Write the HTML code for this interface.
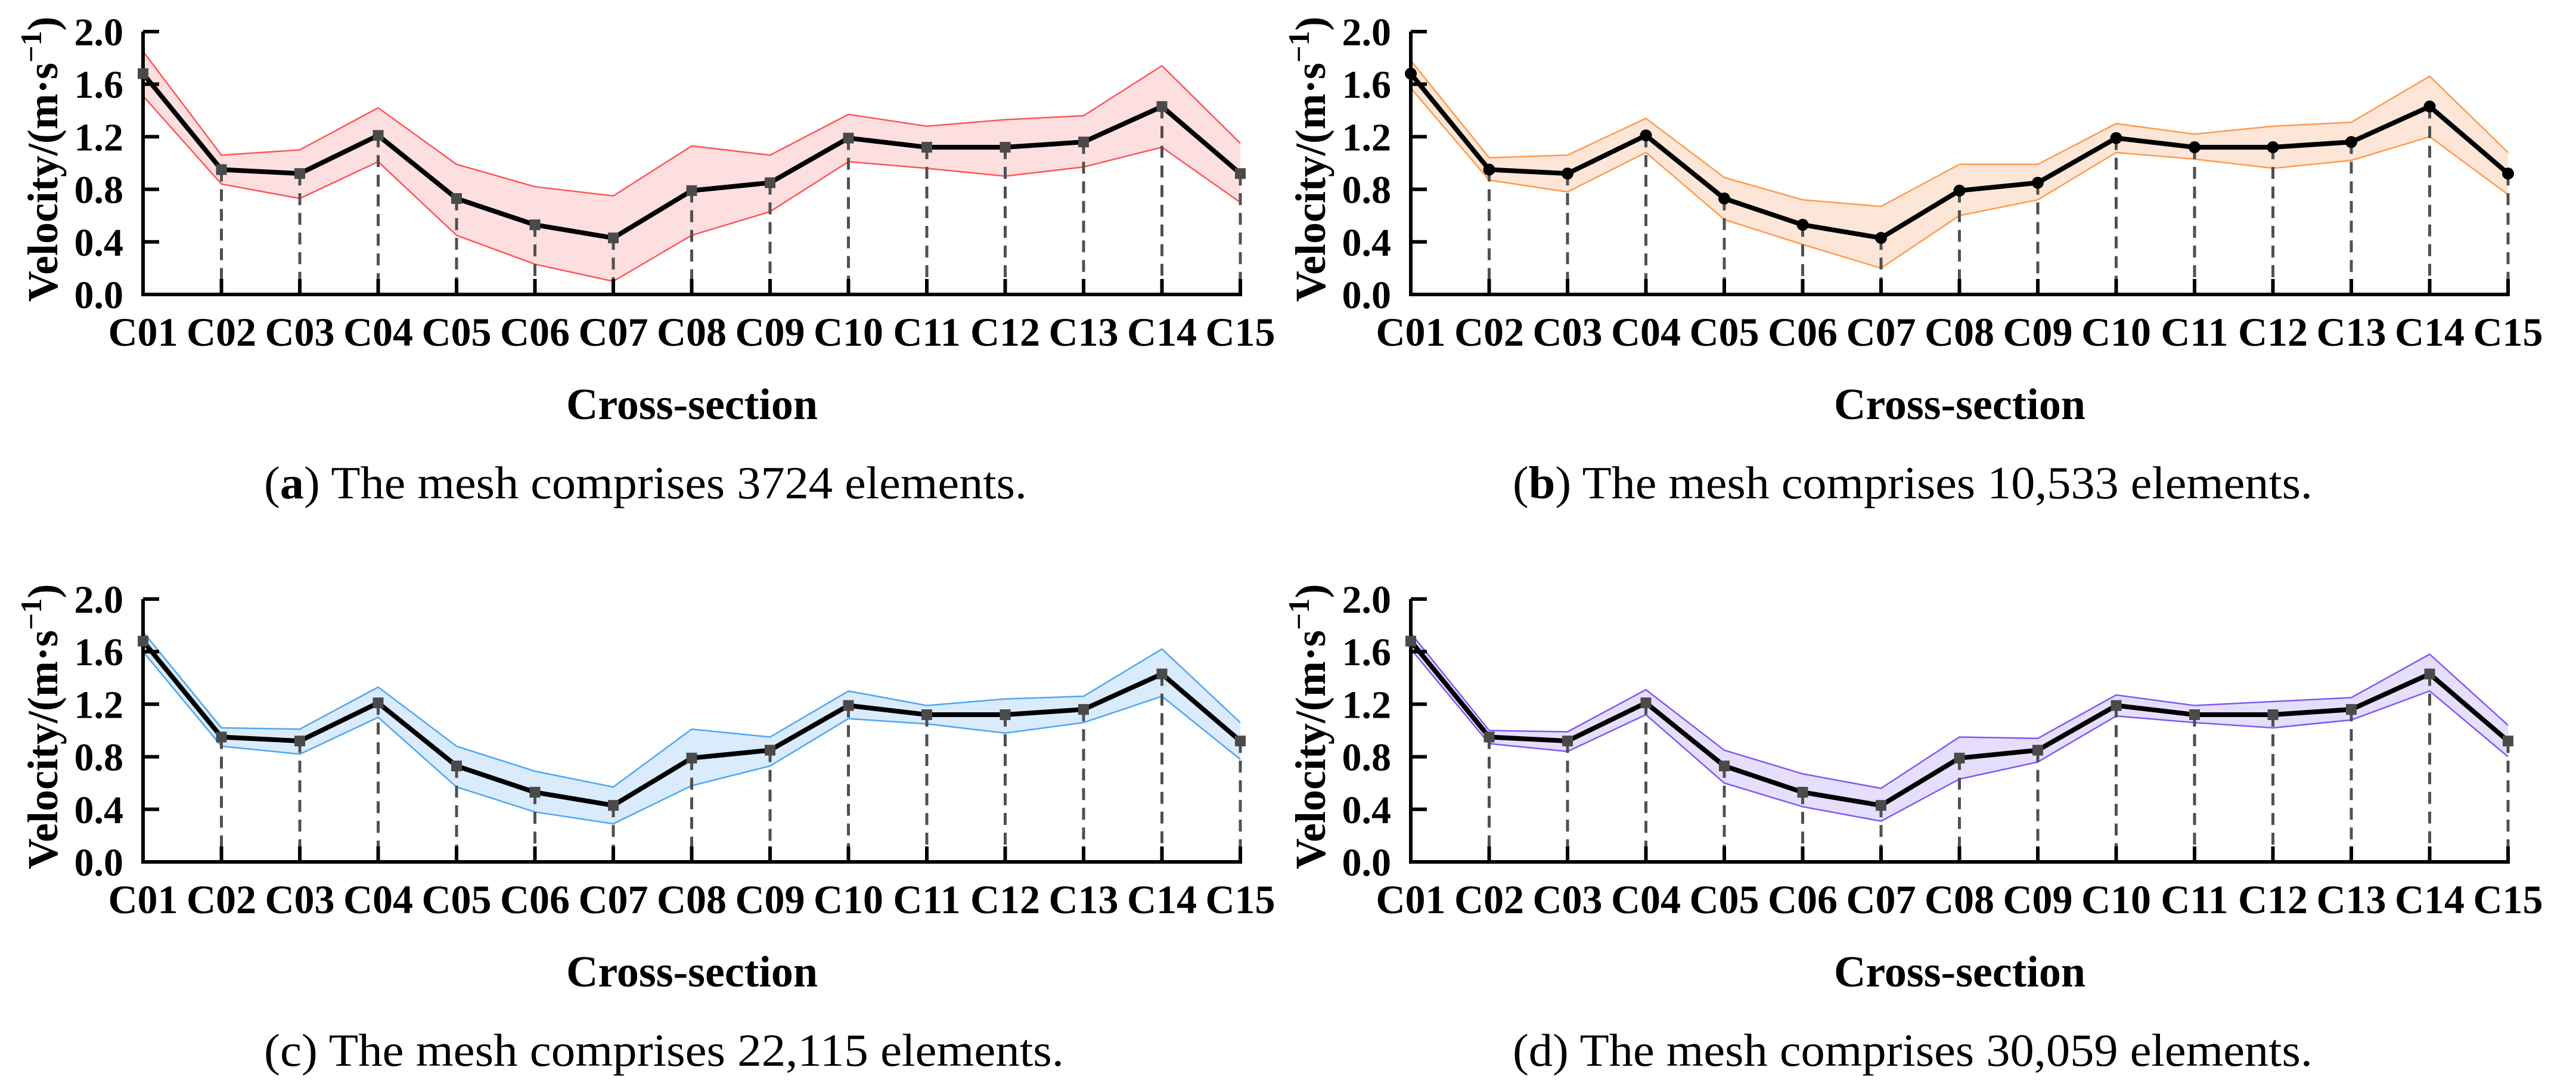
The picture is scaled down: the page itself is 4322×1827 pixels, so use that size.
<!DOCTYPE html>
<html><head><meta charset="utf-8"><style>
html,body{margin:0;padding:0;background:#fff;}
svg{display:block;}
text{font-family:"Liberation Serif",serif;}
</style></head><body>
<svg id="fig" width="4322" height="1827" viewBox="0 0 4322 1827" xmlns="http://www.w3.org/2000/svg"></svg>
<script>
const categories=["C01","C02","C03","C04","C05","C06","C07","C08","C09","C10","C11","C12","C13","C14","C15"];
const meanValues=[1.68,0.95,0.92,1.21,0.73,0.53,0.43,0.79,0.85,1.19,1.12,1.12,1.16,1.43,0.92];
const upperA=[1.85,1.06,1.10,1.42,0.99,0.82,0.75,1.13,1.06,1.37,1.28,1.33,1.36,1.74,1.15];
const lowerA=[1.51,0.84,0.73,1.01,0.45,0.23,0.10,0.45,0.63,1.01,0.96,0.90,0.97,1.12,0.70];
const upperB=[1.78,1.04,1.06,1.34,0.89,0.72,0.67,0.99,0.99,1.30,1.22,1.28,1.31,1.66,1.08];
const lowerB=[1.57,0.87,0.78,1.08,0.57,0.38,0.20,0.60,0.72,1.08,1.03,0.96,1.02,1.20,0.76];
const upperC=[1.75,1.02,1.01,1.33,0.88,0.69,0.57,1.01,0.95,1.30,1.19,1.24,1.26,1.62,1.06];
const lowerC=[1.60,0.88,0.82,1.10,0.57,0.38,0.29,0.58,0.73,1.09,1.05,0.98,1.06,1.26,0.78];
const upperD=[1.74,1.00,0.99,1.31,0.85,0.67,0.56,0.95,0.94,1.27,1.19,1.22,1.25,1.58,1.04];
const lowerD=[1.62,0.90,0.84,1.12,0.60,0.42,0.31,0.63,0.76,1.11,1.06,1.02,1.08,1.30,0.80];
const yTicks=[0.0,0.4,0.8,1.2,1.6,2.0];
const captionLetters=["a","b","c","d"];
const captionCounts=["3724","10,533","22,115","30,059"];

const NS="http://www.w3.org/2000/svg";
const svg=document.getElementById('fig');
function mk(tag,attrs,parent){const e=document.createElementNS(NS,tag);for(const k in attrs)e.setAttribute(k,attrs[k]);(parent||svg).appendChild(e);return e;}

const panels=[
 {dx:0,dy:0,up:upperA,lo:lowerA,fill:"#fddfe0",stroke:"#ff5555",marker:"square"},
 {dx:2127,dy:0,up:upperB,lo:lowerB,fill:"#fde6d8",stroke:"#ff9a4d",marker:"circle"},
 {dx:0,dy:952,up:upperC,lo:lowerC,fill:"#d9ebfd",stroke:"#4ea6f2",marker:"square"},
 {dx:2127,dy:952,up:upperD,lo:lowerD,fill:"#e6defd",stroke:"#8257f5",marker:"square"}
];

panels.forEach((p,pi)=>{
 const g=mk('g',{});
 
 
 const x0=240+p.dx, x1=2081+p.dx, yTop=53+p.dy, yBot=494+p.dy;
 const xs=i=>x0+i*(x1-x0)/(categories.length-1);
 const ys=v=>yBot-v*(yBot-yTop)/2.0;
 let d="M"+p.up.map((v,i)=>xs(i)+","+ys(v)).join(" L");
 for(let i=p.lo.length-1;i>=0;i--) d+=" L"+xs(i)+","+ys(p.lo[i]);
 const band=mk('path',{d:d+" Z",fill:p.fill,stroke:"none"},g);
 
 
 const ul=mk('polyline',{points:p.up.map((v,i)=>xs(i)+","+ys(v)).join(" "),fill:"none",stroke:p.stroke,"stroke-width":2.5},g);
 
 
 const ll=mk('polyline',{points:p.lo.map((v,i)=>xs(i)+","+ys(v)).join(" "),fill:"none",stroke:p.stroke,"stroke-width":2.5},g);
 
 
 meanValues.forEach((v,i)=>{
  const dl=mk('line',{x1:xs(i),x2:xs(i),y1:ys(v),y2:yBot,stroke:"#505050","stroke-width":5,"stroke-dasharray":"20 13"},g);
  
  
 });
 const ax=mk('path',{d:`M${x0},${yTop} L${x0},${yBot} L${x1},${yBot} L${x1},${yBot-26}`,fill:"none",stroke:"#000","stroke-width":6},g);
 
 
 yTicks.forEach(t=>{
  if(t>0){const tk=mk('line',{x1:x0,x2:x0+27,y1:ys(t),y2:ys(t),stroke:"#000","stroke-width":6},g);
   
   }
  const tl=mk('text',{x:207+p.dx,y:ys(t)+23,"text-anchor":"end","font-size":66,"font-weight":"bold"},g);
  tl.textContent=t.toFixed(1);
  
  
 });
 categories.forEach((c,i)=>{
  if(i>0&&i<categories.length-1){const tk=mk('line',{x1:xs(i),x2:xs(i),y1:yBot,y2:yBot-26,stroke:"#000","stroke-width":6},g);
   
   }
  const tl=mk('text',{x:xs(i),y:580+p.dy,"text-anchor":"middle","font-size":68,"font-weight":"bold"},g);
  tl.textContent=c;
  
  
 });
 const ml=mk('polyline',{points:meanValues.map((v,i)=>xs(i)+","+ys(v)).join(" "),fill:"none",stroke:"#000","stroke-width":8,"stroke-linejoin":"miter"},g);
 
 
 meanValues.forEach((v,i)=>{
  let m;
  if(p.marker==="circle") m=mk('circle',{cx:xs(i),cy:ys(v),r:10,fill:"#000"},g);
  else m=mk('rect',{x:xs(i)-9,y:ys(v)-9,width:18,height:18,fill:"#4a4a4a"},g);
  
  
 });
 const yt=mk('text',{transform:`translate(${96+p.dx},${267+p.dy}) rotate(-90)`,"text-anchor":"middle","font-size":72,"font-weight":"bold"},g);
 yt.innerHTML='Velocity/(m·s<tspan dy="-27" font-size="50">−1</tspan><tspan dy="27">)</tspan>';
 
 
 const xt=mk('text',{x:1161+p.dx,y:703+p.dy,"text-anchor":"middle","font-size":74,"font-weight":"bold"},g);
 xt.textContent="Cross-section";
 
 
 const capX=[443,2538][pi%2];
 const capW=[1280,1342,1342,1342][pi];
 const cap=mk('text',{x:capX,y:836+p.dy,"font-size":77,textLength:capW,lengthAdjust:"spacingAndGlyphs"},g);
 cap.innerHTML='(<tspan font-weight="'+(pi<2?'bold':'normal')+'">'+captionLetters[pi]+'</tspan>) The mesh comprises '+captionCounts[pi]+' elements.';
 
 
});
</script>
</body></html>
